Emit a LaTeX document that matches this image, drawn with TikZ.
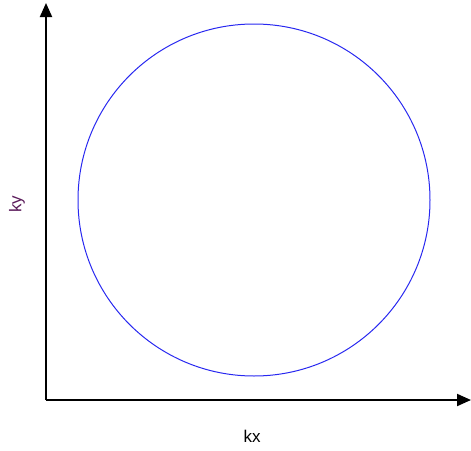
\documentclass[tikz,border=0pt]{standalone}
\usepackage{fontspec}
\setmainfont{Liberation Sans}
\usetikzlibrary{arrows.meta}
\definecolor{labpurple}{HTML}{5A1A5A}
\definecolor{circblue}{HTML}{2828F0}
\tikzset{
  axis/.style={line width=2pt, -{Triangle[length=14pt,width=12pt]}},
  lab/.style={font=\fontsize{17}{20}\selectfont, inner sep=0pt}
}
\begin{document}
\begin{tikzpicture}[x=1pt,y=-1pt]
\useasboundingbox (0,0) rectangle (471,450);
\coordinate (o) at (46,400);
\coordinate (ytop) at (46,3);
\coordinate (xend) at (471,400);
\draw[axis] (o) -- (ytop);
\draw[axis] (o) -- (xend);
\node[draw=circblue, line width=1pt, circle, minimum size=352pt, inner sep=0pt] (c) at (254,200) {};
\node[lab, rotate=90] (ky) at (17,204) {\textcolor{labpurple}{ky}};
\node[lab] (kx) at (252,436) {kx};
\end{tikzpicture}
\end{document}
